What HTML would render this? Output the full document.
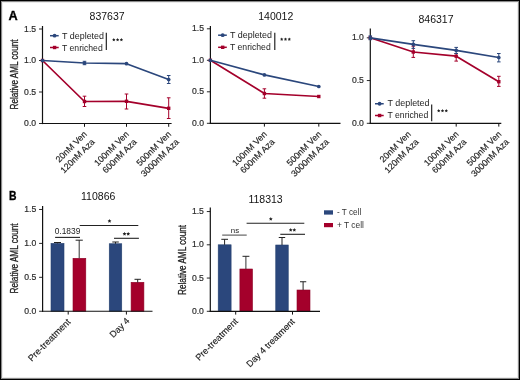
<!DOCTYPE html><html><head><meta charset="utf-8"><style>html,body{margin:0;padding:0;background:#fff;}svg{display:block;will-change:transform;}text{font-family:"Liberation Sans", sans-serif;}</style></head><body>
<svg width="520" height="380" viewBox="0 0 520 380">
<rect x="0" y="0" width="520" height="380" fill="#fff"/>
<text x="8.5" y="19.6" font-size="13.5" fill="#000" textLength="9.2" lengthAdjust="spacingAndGlyphs" font-weight="bold" stroke="#000" stroke-width="0.35">A</text>
<text x="9.0" y="199.9" font-size="12.8" fill="#000" textLength="7.5" lengthAdjust="spacingAndGlyphs" font-weight="bold" stroke="#000" stroke-width="0.35">B</text>
<line x1="42.5" y1="26" x2="42.5" y2="124.1" stroke="#111" stroke-width="1.2" />
<line x1="39.0" y1="29.0" x2="42.5" y2="29.0" stroke="#111" stroke-width="0.9" />
<text x="36.1" y="31.5" font-size="9.6" fill="#2a2a2a" text-anchor="end" textLength="12.0" lengthAdjust="spacingAndGlyphs" stroke="#2a2a2a" stroke-width="0.2">1.5</text>
<line x1="39.0" y1="60.5" x2="42.5" y2="60.5" stroke="#111" stroke-width="0.9" />
<text x="36.1" y="63.0" font-size="9.6" fill="#2a2a2a" text-anchor="end" textLength="12.0" lengthAdjust="spacingAndGlyphs" stroke="#2a2a2a" stroke-width="0.2">1.0</text>
<line x1="39.0" y1="92.0" x2="42.5" y2="92.0" stroke="#111" stroke-width="0.9" />
<text x="36.1" y="94.5" font-size="9.6" fill="#2a2a2a" text-anchor="end" textLength="12.0" lengthAdjust="spacingAndGlyphs" stroke="#2a2a2a" stroke-width="0.2">0.5</text>
<line x1="39.0" y1="123.5" x2="42.5" y2="123.5" stroke="#111" stroke-width="0.9" />
<text x="36.1" y="126.0" font-size="9.6" fill="#2a2a2a" text-anchor="end" textLength="12.0" lengthAdjust="spacingAndGlyphs" stroke="#2a2a2a" stroke-width="0.2">0.0</text>
<line x1="41.9" y1="123.5" x2="171.6" y2="123.5" stroke="#111" stroke-width="1.2" />
<line x1="84.5" y1="123.5" x2="84.5" y2="126.8" stroke="#111" stroke-width="1.0" />
<line x1="126.5" y1="123.5" x2="126.5" y2="126.8" stroke="#111" stroke-width="1.0" />
<line x1="168.7" y1="123.5" x2="168.7" y2="126.8" stroke="#111" stroke-width="1.0" />
<text x="0" y="0" transform="translate(18.3,74.5) rotate(-90)" font-size="10.4" fill="#222" text-anchor="middle" textLength="70" lengthAdjust="spacingAndGlyphs" stroke="#222" stroke-width="0.3">Relative AML count</text>
<text x="107.1" y="20.1" font-size="10.5" fill="#111" text-anchor="middle" >837637</text>
<line x1="50" y1="35.7" x2="58.7" y2="35.7" stroke="#2B477C" stroke-width="1.5" />
<circle cx="54.6" cy="35.7" r="1.9" fill="#2B477C"/>
<text x="62" y="38.7" font-size="9.4" fill="#222" textLength="42.0" lengthAdjust="spacingAndGlyphs" >T depleted</text>
<line x1="50" y1="47.5" x2="58.7" y2="47.5" stroke="#A4002B" stroke-width="1.5" />
<rect x="52.9" y="45.8" width="3.4" height="3.4" fill="#A4002B"/>
<text x="62" y="50.5" font-size="9.4" fill="#222" textLength="40.7" lengthAdjust="spacingAndGlyphs" >T enriched</text>
<line x1="106.3" y1="32.8" x2="106.3" y2="50.1" stroke="#111" stroke-width="1.1" />
<polygon points="113.80,38.05 114.31,39.09 115.46,39.26 114.63,40.07 114.83,41.22 113.80,40.67 112.77,41.22 112.97,40.07 112.14,39.26 113.29,39.09" fill="#222"/>
<polygon points="117.60,38.05 118.11,39.09 119.26,39.26 118.43,40.07 118.63,41.22 117.60,40.67 116.57,41.22 116.77,40.07 115.94,39.26 117.09,39.09" fill="#222"/>
<polygon points="121.40,38.05 121.91,39.09 123.06,39.26 122.23,40.07 122.43,41.22 121.40,40.67 120.37,41.22 120.57,40.07 119.74,39.26 120.89,39.09" fill="#222"/>
<polyline points="42.5,60.5 84.5,101.5 126.5,101.3 168.7,108.3" fill="none" stroke="#A4002B" stroke-width="1.7" stroke-linejoin="round"/>
<rect x="40.8" y="58.8" width="3.4" height="3.4" fill="#A4002B"/>
<line x1="84.5" y1="96.2" x2="84.5" y2="106.5" stroke="#A4002B" stroke-width="1.0" />
<line x1="82.7" y1="96.2" x2="86.3" y2="96.2" stroke="#A4002B" stroke-width="1.0" />
<line x1="82.7" y1="106.5" x2="86.3" y2="106.5" stroke="#A4002B" stroke-width="1.0" />
<rect x="82.8" y="99.8" width="3.4" height="3.4" fill="#A4002B"/>
<line x1="126.5" y1="94.0" x2="126.5" y2="109.0" stroke="#A4002B" stroke-width="1.0" />
<line x1="124.7" y1="94.0" x2="128.3" y2="94.0" stroke="#A4002B" stroke-width="1.0" />
<line x1="124.7" y1="109.0" x2="128.3" y2="109.0" stroke="#A4002B" stroke-width="1.0" />
<rect x="124.8" y="99.6" width="3.4" height="3.4" fill="#A4002B"/>
<line x1="168.7" y1="97.8" x2="168.7" y2="118.5" stroke="#A4002B" stroke-width="1.0" />
<line x1="166.89999999999998" y1="97.8" x2="170.5" y2="97.8" stroke="#A4002B" stroke-width="1.0" />
<line x1="166.89999999999998" y1="118.5" x2="170.5" y2="118.5" stroke="#A4002B" stroke-width="1.0" />
<rect x="167.0" y="106.6" width="3.4" height="3.4" fill="#A4002B"/>
<polyline points="42.5,60.5 84.5,63.0 126.5,63.7 168.7,79.5" fill="none" stroke="#2B477C" stroke-width="1.7" stroke-linejoin="round"/>
<circle cx="42.5" cy="60.5" r="1.85" fill="#2B477C"/>
<line x1="84.5" y1="61.3" x2="84.5" y2="64.7" stroke="#2B477C" stroke-width="1.0" />
<line x1="82.7" y1="61.3" x2="86.3" y2="61.3" stroke="#2B477C" stroke-width="1.0" />
<line x1="82.7" y1="64.7" x2="86.3" y2="64.7" stroke="#2B477C" stroke-width="1.0" />
<circle cx="84.5" cy="63.0" r="1.85" fill="#2B477C"/>
<circle cx="126.5" cy="63.7" r="1.85" fill="#2B477C"/>
<line x1="168.7" y1="75.5" x2="168.7" y2="83.5" stroke="#2B477C" stroke-width="1.0" />
<line x1="166.89999999999998" y1="75.5" x2="170.5" y2="75.5" stroke="#2B477C" stroke-width="1.0" />
<line x1="166.89999999999998" y1="83.5" x2="170.5" y2="83.5" stroke="#2B477C" stroke-width="1.0" />
<circle cx="168.7" cy="79.5" r="1.85" fill="#2B477C"/>
<text x="0" y="0" transform="translate(87.60,134.70) rotate(-45)" font-size="8.9" fill="#222" text-anchor="end" stroke="#222" stroke-width="0.15">20nM Ven</text>
<text x="0" y="0" transform="translate(95.31,142.41) rotate(-45)" font-size="8.9" fill="#222" text-anchor="end" stroke="#222" stroke-width="0.15">120nM Aza</text>
<text x="0" y="0" transform="translate(129.60,134.70) rotate(-45)" font-size="8.9" fill="#222" text-anchor="end" stroke="#222" stroke-width="0.15">100nM Ven</text>
<text x="0" y="0" transform="translate(137.31,142.41) rotate(-45)" font-size="8.9" fill="#222" text-anchor="end" stroke="#222" stroke-width="0.15">600nM Aza</text>
<text x="0" y="0" transform="translate(171.80,134.70) rotate(-45)" font-size="8.9" fill="#222" text-anchor="end" stroke="#222" stroke-width="0.15">500nM Ven</text>
<text x="0" y="0" transform="translate(179.51,142.41) rotate(-45)" font-size="8.9" fill="#222" text-anchor="end" stroke="#222" stroke-width="0.15">3000nM Aza</text>
<line x1="210.4" y1="26" x2="210.4" y2="123.89999999999999" stroke="#111" stroke-width="1.2" />
<line x1="206.9" y1="28.799999999999997" x2="210.4" y2="28.799999999999997" stroke="#111" stroke-width="0.9" />
<text x="204.0" y="31.299999999999997" font-size="9.6" fill="#2a2a2a" text-anchor="end" textLength="12.0" lengthAdjust="spacingAndGlyphs" stroke="#2a2a2a" stroke-width="0.2">1.5</text>
<line x1="206.9" y1="60.3" x2="210.4" y2="60.3" stroke="#111" stroke-width="0.9" />
<text x="204.0" y="62.8" font-size="9.6" fill="#2a2a2a" text-anchor="end" textLength="12.0" lengthAdjust="spacingAndGlyphs" stroke="#2a2a2a" stroke-width="0.2">1.0</text>
<line x1="206.9" y1="91.8" x2="210.4" y2="91.8" stroke="#111" stroke-width="0.9" />
<text x="204.0" y="94.3" font-size="9.6" fill="#2a2a2a" text-anchor="end" textLength="12.0" lengthAdjust="spacingAndGlyphs" stroke="#2a2a2a" stroke-width="0.2">0.5</text>
<line x1="206.9" y1="123.3" x2="210.4" y2="123.3" stroke="#111" stroke-width="0.9" />
<text x="204.0" y="125.8" font-size="9.6" fill="#2a2a2a" text-anchor="end" textLength="12.0" lengthAdjust="spacingAndGlyphs" stroke="#2a2a2a" stroke-width="0.2">0.0</text>
<line x1="209.8" y1="123.3" x2="340.5" y2="123.3" stroke="#111" stroke-width="1.2" />
<line x1="264.4" y1="123.3" x2="264.4" y2="126.6" stroke="#111" stroke-width="1.0" />
<line x1="318.8" y1="123.3" x2="318.8" y2="126.6" stroke="#111" stroke-width="1.0" />
<text x="275.8" y="19.8" font-size="10.5" fill="#111" text-anchor="middle" >140012</text>
<line x1="218.1" y1="35.2" x2="226.79999999999998" y2="35.2" stroke="#2B477C" stroke-width="1.5" />
<circle cx="222.7" cy="35.2" r="1.9" fill="#2B477C"/>
<text x="230" y="38.2" font-size="9.4" fill="#222" textLength="42.0" lengthAdjust="spacingAndGlyphs" >T depleted</text>
<line x1="218.1" y1="47.3" x2="226.79999999999998" y2="47.3" stroke="#A4002B" stroke-width="1.5" />
<rect x="221.0" y="45.599999999999994" width="3.4" height="3.4" fill="#A4002B"/>
<text x="230" y="50.3" font-size="9.4" fill="#222" textLength="40.7" lengthAdjust="spacingAndGlyphs" >T enriched</text>
<line x1="274.8" y1="32.8" x2="274.8" y2="50" stroke="#111" stroke-width="1.1" />
<polygon points="281.70,37.55 282.21,38.59 283.36,38.76 282.53,39.57 282.73,40.72 281.70,40.17 280.67,40.72 280.87,39.57 280.04,38.76 281.19,38.59" fill="#222"/>
<polygon points="285.50,37.55 286.01,38.59 287.16,38.76 286.33,39.57 286.53,40.72 285.50,40.17 284.47,40.72 284.67,39.57 283.84,38.76 284.99,38.59" fill="#222"/>
<polygon points="289.30,37.55 289.81,38.59 290.96,38.76 290.13,39.57 290.33,40.72 289.30,40.17 288.27,40.72 288.47,39.57 287.64,38.76 288.79,38.59" fill="#222"/>
<polyline points="210.4,60.3 264.4,93.5 318.8,96.5" fill="none" stroke="#A4002B" stroke-width="1.7" stroke-linejoin="round"/>
<rect x="208.70000000000002" y="58.599999999999994" width="3.4" height="3.4" fill="#A4002B"/>
<line x1="264.4" y1="88.8" x2="264.4" y2="98.2" stroke="#A4002B" stroke-width="1.0" />
<line x1="262.59999999999997" y1="88.8" x2="266.2" y2="88.8" stroke="#A4002B" stroke-width="1.0" />
<line x1="262.59999999999997" y1="98.2" x2="266.2" y2="98.2" stroke="#A4002B" stroke-width="1.0" />
<rect x="262.7" y="91.8" width="3.4" height="3.4" fill="#A4002B"/>
<rect x="317.1" y="94.8" width="3.4" height="3.4" fill="#A4002B"/>
<polyline points="210.4,60.3 264.4,74.9 318.8,86.5" fill="none" stroke="#2B477C" stroke-width="1.7" stroke-linejoin="round"/>
<circle cx="210.4" cy="60.3" r="1.85" fill="#2B477C"/>
<circle cx="264.4" cy="74.9" r="1.85" fill="#2B477C"/>
<circle cx="318.8" cy="86.5" r="1.85" fill="#2B477C"/>
<text x="0" y="0" transform="translate(267.50,134.70) rotate(-45)" font-size="8.9" fill="#222" text-anchor="end" stroke="#222" stroke-width="0.15">100nM Ven</text>
<text x="0" y="0" transform="translate(275.21,142.41) rotate(-45)" font-size="8.9" fill="#222" text-anchor="end" stroke="#222" stroke-width="0.15">600nM Aza</text>
<text x="0" y="0" transform="translate(321.90,134.70) rotate(-45)" font-size="8.9" fill="#222" text-anchor="end" stroke="#222" stroke-width="0.15">500nM Ven</text>
<text x="0" y="0" transform="translate(329.61,142.41) rotate(-45)" font-size="8.9" fill="#222" text-anchor="end" stroke="#222" stroke-width="0.15">3000nM Aza</text>
<line x1="370.3" y1="28.5" x2="370.3" y2="123.89999999999999" stroke="#111" stroke-width="1.2" />
<line x1="366.8" y1="37.8" x2="370.3" y2="37.8" stroke="#111" stroke-width="0.9" />
<text x="363.90000000000003" y="40.3" font-size="9.6" fill="#2a2a2a" text-anchor="end" textLength="12.0" lengthAdjust="spacingAndGlyphs" stroke="#2a2a2a" stroke-width="0.2">1.0</text>
<line x1="366.8" y1="80.55" x2="370.3" y2="80.55" stroke="#111" stroke-width="0.9" />
<text x="363.90000000000003" y="83.05" font-size="9.6" fill="#2a2a2a" text-anchor="end" textLength="12.0" lengthAdjust="spacingAndGlyphs" stroke="#2a2a2a" stroke-width="0.2">0.5</text>
<line x1="366.8" y1="123.3" x2="370.3" y2="123.3" stroke="#111" stroke-width="0.9" />
<text x="363.90000000000003" y="125.8" font-size="9.6" fill="#2a2a2a" text-anchor="end" textLength="12.0" lengthAdjust="spacingAndGlyphs" stroke="#2a2a2a" stroke-width="0.2">0.0</text>
<line x1="369.7" y1="123.3" x2="501.3" y2="123.3" stroke="#111" stroke-width="1.2" />
<line x1="456.2" y1="123.3" x2="456.2" y2="126.6" stroke="#111" stroke-width="1.0" />
<line x1="498.8" y1="123.3" x2="498.8" y2="126.6" stroke="#111" stroke-width="1.0" />
<text x="436" y="22.8" font-size="10.5" fill="#111" text-anchor="middle" >846317</text>
<line x1="375" y1="103.75" x2="383.7" y2="103.75" stroke="#2B477C" stroke-width="1.5" />
<circle cx="379.6" cy="103.75" r="1.9" fill="#2B477C"/>
<text x="387.5" y="106.15" font-size="9.4" fill="#222" textLength="42.0" lengthAdjust="spacingAndGlyphs" >T depleted</text>
<line x1="375" y1="115.5" x2="383.7" y2="115.5" stroke="#A4002B" stroke-width="1.5" />
<rect x="377.90000000000003" y="113.8" width="3.4" height="3.4" fill="#A4002B"/>
<text x="387.5" y="117.9" font-size="9.4" fill="#222" textLength="40.7" lengthAdjust="spacingAndGlyphs" >T enriched</text>
<line x1="431.7" y1="104.4" x2="431.7" y2="121.3" stroke="#111" stroke-width="1.1" />
<polygon points="438.70,109.05 439.21,110.09 440.36,110.26 439.53,111.07 439.73,112.22 438.70,111.67 437.67,112.22 437.87,111.07 437.04,110.26 438.19,110.09" fill="#222"/>
<polygon points="442.50,109.05 443.01,110.09 444.16,110.26 443.33,111.07 443.53,112.22 442.50,111.67 441.47,112.22 441.67,111.07 440.84,110.26 441.99,110.09" fill="#222"/>
<polygon points="446.30,109.05 446.81,110.09 447.96,110.26 447.13,111.07 447.33,112.22 446.30,111.67 445.27,112.22 445.47,111.07 444.64,110.26 445.79,110.09" fill="#222"/>
<polyline points="370.3,37.8 413.3,52.0 456.2,56.2 498.8,81.7" fill="none" stroke="#A4002B" stroke-width="1.7" stroke-linejoin="round"/>
<rect x="368.6" y="36.099999999999994" width="3.4" height="3.4" fill="#A4002B"/>
<line x1="413.3" y1="46.2" x2="413.3" y2="57.4" stroke="#A4002B" stroke-width="1.0" />
<line x1="411.5" y1="46.2" x2="415.1" y2="46.2" stroke="#A4002B" stroke-width="1.0" />
<line x1="411.5" y1="57.4" x2="415.1" y2="57.4" stroke="#A4002B" stroke-width="1.0" />
<rect x="411.6" y="50.3" width="3.4" height="3.4" fill="#A4002B"/>
<line x1="456.2" y1="53.5" x2="456.2" y2="61.1" stroke="#A4002B" stroke-width="1.0" />
<line x1="454.4" y1="53.5" x2="458.0" y2="53.5" stroke="#A4002B" stroke-width="1.0" />
<line x1="454.4" y1="61.1" x2="458.0" y2="61.1" stroke="#A4002B" stroke-width="1.0" />
<rect x="454.5" y="54.5" width="3.4" height="3.4" fill="#A4002B"/>
<line x1="498.8" y1="76.3" x2="498.8" y2="86.4" stroke="#A4002B" stroke-width="1.0" />
<line x1="497.0" y1="76.3" x2="500.6" y2="76.3" stroke="#A4002B" stroke-width="1.0" />
<line x1="497.0" y1="86.4" x2="500.6" y2="86.4" stroke="#A4002B" stroke-width="1.0" />
<rect x="497.1" y="80.0" width="3.4" height="3.4" fill="#A4002B"/>
<polyline points="370.3,37.8 413.3,44.3 456.2,50.4 498.8,57.5" fill="none" stroke="#2B477C" stroke-width="1.7" stroke-linejoin="round"/>
<line x1="370.3" y1="35.9" x2="370.3" y2="39.7" stroke="#2B477C" stroke-width="1.0" />
<line x1="368.5" y1="35.9" x2="372.1" y2="35.9" stroke="#2B477C" stroke-width="1.0" />
<line x1="368.5" y1="39.7" x2="372.1" y2="39.7" stroke="#2B477C" stroke-width="1.0" />
<circle cx="370.3" cy="37.8" r="1.85" fill="#2B477C"/>
<line x1="413.3" y1="40.7" x2="413.3" y2="48.4" stroke="#2B477C" stroke-width="1.0" />
<line x1="411.5" y1="40.7" x2="415.1" y2="40.7" stroke="#2B477C" stroke-width="1.0" />
<line x1="411.5" y1="48.4" x2="415.1" y2="48.4" stroke="#2B477C" stroke-width="1.0" />
<circle cx="413.3" cy="44.3" r="1.85" fill="#2B477C"/>
<line x1="456.2" y1="47.4" x2="456.2" y2="53.5" stroke="#2B477C" stroke-width="1.0" />
<line x1="454.4" y1="47.4" x2="458.0" y2="47.4" stroke="#2B477C" stroke-width="1.0" />
<line x1="454.4" y1="53.5" x2="458.0" y2="53.5" stroke="#2B477C" stroke-width="1.0" />
<circle cx="456.2" cy="50.4" r="1.85" fill="#2B477C"/>
<line x1="498.8" y1="53.5" x2="498.8" y2="61.9" stroke="#2B477C" stroke-width="1.0" />
<line x1="497.0" y1="53.5" x2="500.6" y2="53.5" stroke="#2B477C" stroke-width="1.0" />
<line x1="497.0" y1="61.9" x2="500.6" y2="61.9" stroke="#2B477C" stroke-width="1.0" />
<circle cx="498.8" cy="57.5" r="1.85" fill="#2B477C"/>
<text x="0" y="0" transform="translate(411.60,134.70) rotate(-45)" font-size="8.9" fill="#222" text-anchor="end" stroke="#222" stroke-width="0.15">20nM Ven</text>
<text x="0" y="0" transform="translate(419.31,142.41) rotate(-45)" font-size="8.9" fill="#222" text-anchor="end" stroke="#222" stroke-width="0.15">120nM Aza</text>
<text x="0" y="0" transform="translate(459.30,134.70) rotate(-45)" font-size="8.9" fill="#222" text-anchor="end" stroke="#222" stroke-width="0.15">100nM Ven</text>
<text x="0" y="0" transform="translate(467.01,142.41) rotate(-45)" font-size="8.9" fill="#222" text-anchor="end" stroke="#222" stroke-width="0.15">600nM Aza</text>
<text x="0" y="0" transform="translate(501.90,134.70) rotate(-45)" font-size="8.9" fill="#222" text-anchor="end" stroke="#222" stroke-width="0.15">500nM Ven</text>
<text x="0" y="0" transform="translate(509.61,142.41) rotate(-45)" font-size="8.9" fill="#222" text-anchor="end" stroke="#222" stroke-width="0.15">3000nM Aza</text>
<rect x="51" y="243.4" width="13" height="67.85" fill="#2B477C" stroke="#24406E" stroke-width="0.6"/>
<rect x="73" y="258.3" width="12.799999999999997" height="52.94999999999999" fill="#A4002B" stroke="#8E0026" stroke-width="0.6"/>
<rect x="109.25" y="243.75" width="12.5" height="67.5" fill="#2B477C" stroke="#24406E" stroke-width="0.6"/>
<rect x="131.1" y="282.3" width="12.800000000000011" height="28.94999999999999" fill="#A4002B" stroke="#8E0026" stroke-width="0.6"/>
<line x1="57.5" y1="243.4" x2="57.5" y2="242.5" stroke="#222" stroke-width="1.0" />
<line x1="54" y1="242.5" x2="61" y2="242.5" stroke="#222" stroke-width="1.0" />
<line x1="79.2" y1="258.2" x2="79.2" y2="240.2" stroke="#333" stroke-width="1.0" />
<line x1="75.6" y1="240.2" x2="82.8" y2="240.2" stroke="#222" stroke-width="1.0" />
<line x1="115.5" y1="243.75" x2="115.5" y2="242.0" stroke="#222" stroke-width="1.0" />
<line x1="112.3" y1="242.0" x2="118.8" y2="242.0" stroke="#222" stroke-width="1.0" />
<line x1="137.7" y1="282.5" x2="137.7" y2="279.3" stroke="#222" stroke-width="1.0" />
<line x1="134.5" y1="279.3" x2="140.9" y2="279.3" stroke="#222" stroke-width="1.0" />
<line x1="42.6" y1="205.9" x2="42.6" y2="311.85" stroke="#111" stroke-width="1.2" />
<line x1="39.1" y1="209.47500000000002" x2="42.6" y2="209.47500000000002" stroke="#111" stroke-width="0.9" />
<text x="36.2" y="211.97500000000002" font-size="9.6" fill="#2a2a2a" text-anchor="end" textLength="12.0" lengthAdjust="spacingAndGlyphs" stroke="#2a2a2a" stroke-width="0.2">1.5</text>
<line x1="39.1" y1="243.4" x2="42.6" y2="243.4" stroke="#111" stroke-width="0.9" />
<text x="36.2" y="245.9" font-size="9.6" fill="#2a2a2a" text-anchor="end" textLength="12.0" lengthAdjust="spacingAndGlyphs" stroke="#2a2a2a" stroke-width="0.2">1.0</text>
<line x1="39.1" y1="277.325" x2="42.6" y2="277.325" stroke="#111" stroke-width="0.9" />
<text x="36.2" y="279.825" font-size="9.6" fill="#2a2a2a" text-anchor="end" textLength="12.0" lengthAdjust="spacingAndGlyphs" stroke="#2a2a2a" stroke-width="0.2">0.5</text>
<line x1="39.1" y1="311.25" x2="42.6" y2="311.25" stroke="#111" stroke-width="0.9" />
<text x="36.2" y="313.75" font-size="9.6" fill="#2a2a2a" text-anchor="end" textLength="12.0" lengthAdjust="spacingAndGlyphs" stroke="#2a2a2a" stroke-width="0.2">0.0</text>
<line x1="42.0" y1="311.25" x2="152.5" y2="311.25" stroke="#111" stroke-width="1.2" />
<line x1="68.2" y1="311.25" x2="68.2" y2="314.55" stroke="#111" stroke-width="1.0" />
<line x1="126.4" y1="311.25" x2="126.4" y2="314.55" stroke="#111" stroke-width="1.0" />
<text x="0" y="0" transform="translate(18.1,258.4) rotate(-90)" font-size="10.4" fill="#222" text-anchor="middle" textLength="70" lengthAdjust="spacingAndGlyphs" stroke="#222" stroke-width="0.3">Relative AML count</text>
<text x="98.2" y="199.8" font-size="10.5" fill="#111" text-anchor="middle" >110866</text>
<line x1="55.1" y1="237.4" x2="80" y2="237.4" stroke="#222" stroke-width="1.1" />
<text x="67.5" y="234.1" font-size="8.4" fill="#222" text-anchor="middle" >0.1839</text>
<line x1="79.7" y1="225.5" x2="138.3" y2="225.5" stroke="#222" stroke-width="1.1" />
<polygon points="109.50,219.10 110.09,220.29 111.40,220.48 110.45,221.41 110.68,222.72 109.50,222.10 108.32,222.72 108.55,221.41 107.60,220.48 108.91,220.29" fill="#222"/>
<line x1="114" y1="238.3" x2="138.9" y2="238.3" stroke="#222" stroke-width="1.1" />
<polygon points="124.50,231.90 125.09,233.09 126.40,233.28 125.45,234.21 125.68,235.52 124.50,234.90 123.32,235.52 123.55,234.21 122.60,233.28 123.91,233.09" fill="#222"/>
<polygon points="128.20,231.90 128.79,233.09 130.10,233.28 129.15,234.21 129.38,235.52 128.20,234.90 127.02,235.52 127.25,234.21 126.30,233.28 127.61,233.09" fill="#222"/>
<text x="0" y="0" transform="translate(71.10,322.50) rotate(-45)" font-size="9.15" fill="#222" text-anchor="end" stroke="#222" stroke-width="0.15">Pre-treatment</text>
<text x="0" y="0" transform="translate(130.20,321.50) rotate(-45)" font-size="9.15" fill="#222" text-anchor="end" stroke="#222" stroke-width="0.15">Day 4</text>
<rect x="218.2" y="244.8" width="12.900000000000006" height="66.5" fill="#2B477C" stroke="#24406E" stroke-width="0.6"/>
<rect x="239.9" y="269.0" width="12.599999999999994" height="42.30000000000001" fill="#A4002B" stroke="#8E0026" stroke-width="0.6"/>
<rect x="275.75" y="245.0" width="12.5" height="66.30000000000001" fill="#2B477C" stroke="#24406E" stroke-width="0.6"/>
<rect x="297" y="290.0" width="13" height="21.30000000000001" fill="#A4002B" stroke="#8E0026" stroke-width="0.6"/>
<line x1="224.6" y1="244.8" x2="224.6" y2="239.3" stroke="#222" stroke-width="1.0" />
<line x1="221.3" y1="239.3" x2="228" y2="239.3" stroke="#222" stroke-width="1.0" />
<line x1="245.9" y1="269" x2="245.9" y2="256.3" stroke="#333" stroke-width="1.0" />
<line x1="242.5" y1="256.3" x2="249.4" y2="256.3" stroke="#222" stroke-width="1.0" />
<line x1="282" y1="245" x2="282" y2="237.5" stroke="#222" stroke-width="1.0" />
<line x1="278.75" y1="237.5" x2="285.2" y2="237.5" stroke="#222" stroke-width="1.0" />
<line x1="303.1" y1="290" x2="303.1" y2="281.75" stroke="#222" stroke-width="1.0" />
<line x1="300" y1="281.75" x2="306.25" y2="281.75" stroke="#222" stroke-width="1.0" />
<line x1="210.3" y1="207.6" x2="210.3" y2="311.90000000000003" stroke="#111" stroke-width="1.2" />
<line x1="206.8" y1="211.55" x2="210.3" y2="211.55" stroke="#111" stroke-width="0.9" />
<text x="203.9" y="214.05" font-size="9.6" fill="#2a2a2a" text-anchor="end" textLength="12.0" lengthAdjust="spacingAndGlyphs" stroke="#2a2a2a" stroke-width="0.2">1.5</text>
<line x1="206.8" y1="244.8" x2="210.3" y2="244.8" stroke="#111" stroke-width="0.9" />
<text x="203.9" y="247.3" font-size="9.6" fill="#2a2a2a" text-anchor="end" textLength="12.0" lengthAdjust="spacingAndGlyphs" stroke="#2a2a2a" stroke-width="0.2">1.0</text>
<line x1="206.8" y1="278.05" x2="210.3" y2="278.05" stroke="#111" stroke-width="0.9" />
<text x="203.9" y="280.55" font-size="9.6" fill="#2a2a2a" text-anchor="end" textLength="12.0" lengthAdjust="spacingAndGlyphs" stroke="#2a2a2a" stroke-width="0.2">0.5</text>
<line x1="206.8" y1="311.3" x2="210.3" y2="311.3" stroke="#111" stroke-width="0.9" />
<text x="203.9" y="313.8" font-size="9.6" fill="#2a2a2a" text-anchor="end" textLength="12.0" lengthAdjust="spacingAndGlyphs" stroke="#2a2a2a" stroke-width="0.2">0.0</text>
<line x1="209.70000000000002" y1="311.3" x2="320" y2="311.3" stroke="#111" stroke-width="1.2" />
<line x1="235.7" y1="311.3" x2="235.7" y2="314.6" stroke="#111" stroke-width="1.0" />
<line x1="292.5" y1="311.3" x2="292.5" y2="314.6" stroke="#111" stroke-width="1.0" />
<text x="0" y="0" transform="translate(185.6,259.9) rotate(-90)" font-size="10.4" fill="#222" text-anchor="middle" textLength="70" lengthAdjust="spacingAndGlyphs" stroke="#222" stroke-width="0.3">Relative AML count</text>
<text x="265.6" y="202.5" font-size="10.5" fill="#111" text-anchor="middle" >118313</text>
<line x1="222.2" y1="235.1" x2="246.7" y2="235.1" stroke="#555" stroke-width="1.1" />
<text x="235.0" y="233.3" font-size="7.9" fill="#222" text-anchor="middle" >ns</text>
<line x1="246.6" y1="223.3" x2="304.3" y2="223.3" stroke="#222" stroke-width="1.1" />
<polygon points="270.80,217.00 271.39,218.19 272.70,218.38 271.75,219.31 271.98,220.62 270.80,220.00 269.62,220.62 269.85,219.31 268.90,218.38 270.21,218.19" fill="#222"/>
<line x1="280.3" y1="234.3" x2="305" y2="234.3" stroke="#222" stroke-width="1.1" />
<polygon points="290.70,228.00 291.29,229.19 292.60,229.38 291.65,230.31 291.88,231.62 290.70,231.00 289.52,231.62 289.75,230.31 288.80,229.38 290.11,229.19" fill="#222"/>
<polygon points="294.30,228.00 294.89,229.19 296.20,229.38 295.25,230.31 295.48,231.62 294.30,231.00 293.12,231.62 293.35,230.31 292.40,229.38 293.71,229.19" fill="#222"/>
<text x="0" y="0" transform="translate(238.60,321.90) rotate(-45)" font-size="9.15" fill="#222" text-anchor="end" stroke="#222" stroke-width="0.15">Pre-treatment</text>
<text x="0" y="0" transform="translate(295.40,322.20) rotate(-45)" font-size="9.05" fill="#222" text-anchor="end" stroke="#222" stroke-width="0.15">Day 4 treatment</text>
<rect x="324" y="210.3" width="9" height="4.3" fill="#2B477C"/>
<rect x="324" y="223" width="9" height="4.2" fill="#A4002B"/>
<text x="337.0" y="215.4" font-size="9.0" fill="#333" textLength="24.2" lengthAdjust="spacingAndGlyphs" >- T cell</text>
<text x="337.0" y="227.6" font-size="9.0" fill="#333" textLength="26.9" lengthAdjust="spacingAndGlyphs" >+ T cell</text>
<rect x="2.5" y="2.5" width="515" height="375" fill="none" stroke="#ececec" stroke-width="1"/>
<rect x="1.5" y="1.5" width="517" height="377" fill="none" stroke="#8a8a8a" stroke-width="1"/>
<rect x="0.5" y="0.5" width="519" height="379" fill="none" stroke="#000" stroke-width="1"/>
</svg></body></html>
